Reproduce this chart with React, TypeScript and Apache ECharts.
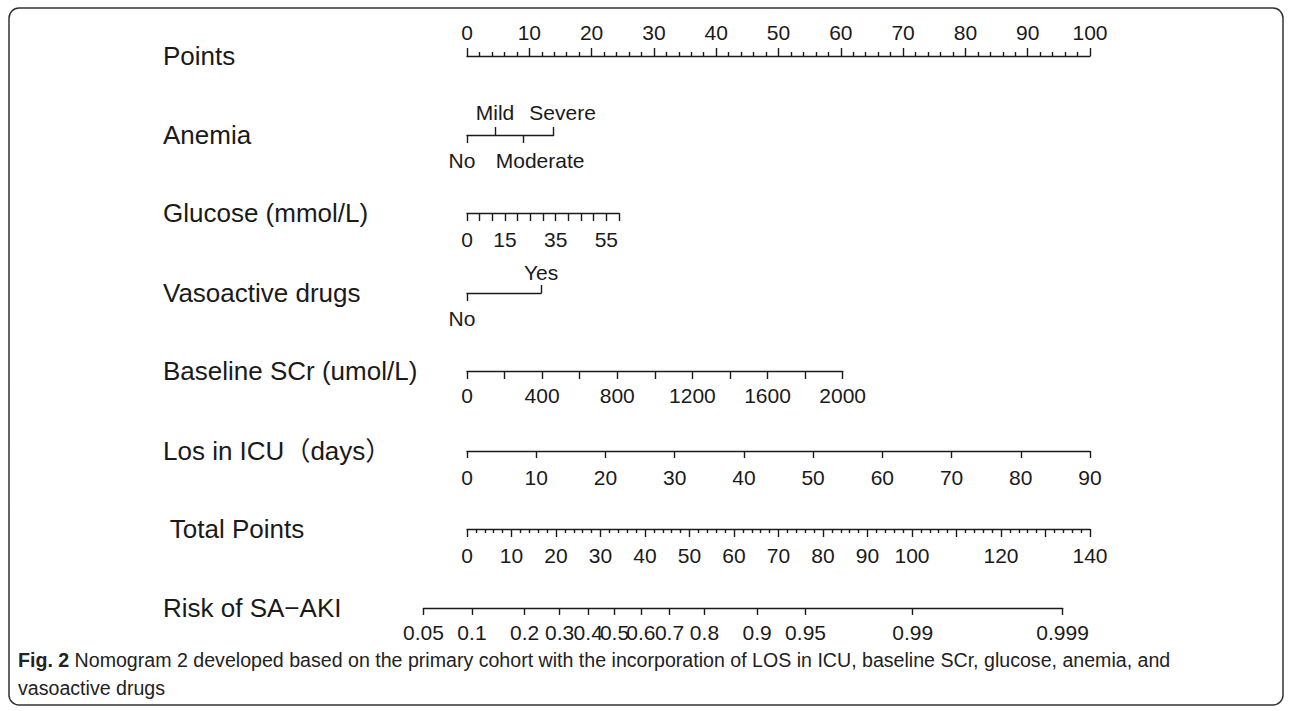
import React, { useEffect, useRef } from "react";
import * as echarts from "echarts";

// ---------- data ----------
const rowLabels = [
  "Points",
  "Anemia",
  "Glucose (mmol/L)",
  "Vasoactive drugs",
  "Baseline SCr (umol/L)",
  "Los in ICU（days）",
  " Total Points",
  "Risk of SA\u2212AKI",
];

const pointsRange = [0, 100];
const pointsStep = 10;

const anemiaLevels = ["No", "Mild", "Moderate", "Severe"];
const anemiaPoints = [0, 4.5, 9.0, 13.9];
const anemiaUpper = ["Mild", "Severe"];

const glucoseRange = [0, 60];
const glucoseMaxPoints = 24.4;
const glucoseStep = 5;
const glucoseLabels = [0, 15, 35, 55];

const vasoLevels = ["No", "Yes"];
const vasoPoints = [0, 11.9];
const vasoUpper = ["Yes"];

const scrRange = [0, 2000];
const scrMaxPoints = 60.3;
const scrStep = 200;
const scrLabels = [0, 400, 800, 1200, 1600, 2000];

const losRange = [0, 90];
const losMaxPoints = 100;
const losStep = 10;

const totalRange = [0, 140];
const totalStep = 10;
const totalLabels = [0, 10, 20, 30, 40, 50, 60, 70, 80, 90, 100, 120, 140];

const riskTicks = [0.05, 0.1, 0.2, 0.3, 0.4, 0.5, 0.6, 0.7, 0.8, 0.9, 0.95, 0.99, 0.999];
const riskIntercept = 33.15; // total points where risk = 0.5
const riskSlope = 14.58; // total points per logit unit

const captionBold = "Fig. 2";
const captionText =
  " Nomogram 2 developed based on the primary cohort with the incorporation of LOS in ICU, baseline SCr, glucose, anemia, and";
const captionText2 = "vasoactive drugs";

// ---------- layout ----------
const X0 = 467;
const W = 623;
const rowY = [56, 135, 213, 293, 371, 451, 529, 608];
const labelX = 163;
const FONT = "'Liberation Sans', Arial, 'Noto Sans CJK SC', sans-serif";
const FS = 21; // tick labels
const LFS = 26; // variable labels
const INK = "#1a1a1a";
// small horizontal nudges of category labels (px), as in the reference
const labelShift: Record<string, number> = { No: -5, Moderate: 17, Severe: 9 };

const logit = (p: number) => Math.log(p / (1 - p));

export default function App() {
  const ref = useRef<HTMLDivElement>(null);

  useEffect(() => {
    if (!ref.current) return;
    const chart = echarts.init(ref.current, undefined, { renderer: "svg" });

    const pxPerPoint = W / (pointsRange[1] - pointsRange[0]);
    const pxPerTotal = W / (totalRange[1] - totalRange[0]);

    const lineStyle = { color: INK, width: 1.4 };
    const labelBase = { color: INK, fontSize: FS, fontFamily: FONT };

    const grids: any[] = [];
    const xAxes: any[] = [];
    const yAxes: any[] = [];

    const addGrid = (left: number, width: number, y: number) => {
      grids.push({ left, width, top: y, height: 0, containLabel: false });
      const gi = grids.length - 1;
      yAxes.push({ gridIndex: gi, show: false, min: 0, max: 1 });
      return gi;
    };

    // Points
    {
      const gi = addGrid(X0, W, rowY[0]);
      xAxes.push({
        gridIndex: gi,
        type: "value",
        position: "top",
        min: pointsRange[0],
        max: pointsRange[1],
        interval: pointsStep,
        axisLine: { show: true, lineStyle },
        axisTick: { show: true, length: 8, lineStyle },
        minorTick: { show: true, splitNumber: 5, length: 4, lineStyle },
        splitLine: { show: false },
        axisLabel: { ...labelBase, margin: 13.5, formatter: (v: number) => String(v) },
      });
    }

    const richShift: Record<string, any> = {};
    Object.keys(labelShift).forEach((k) => {
      const s = labelShift[k];
      richShift[k] = {
        fontSize: FS,
        fontFamily: FONT,
        color: INK,
        padding: s >= 0 ? [0, 0, 0, 2 * s] : [0, -2 * s, 0, 0],
      };
    });

    // categorical rows (Anemia, Vaso)
    const catRow = (levels: string[], pts: number[], upper: string[], y: number, mTop: number, mBot: number) => {
      const maxP = pts[pts.length - 1];
      const gi = addGrid(X0, maxP * pxPerPoint, y);
      const nameOf = (v: number) => {
        let best = 0;
        pts.forEach((p, i) => {
          if (Math.abs(p - v) < Math.abs(pts[best] - v)) best = i;
        });
        const n = levels[best];
        return labelShift[n] !== undefined ? `{${n}|${n}}` : n;
      };
      const upVals = pts.filter((_, i) => upper.includes(levels[i]));
      const downVals = pts.filter((_, i) => !upper.includes(levels[i]));
      xAxes.push({
        gridIndex: gi,
        type: "value",
        position: "top",
        min: 0,
        max: maxP,
        axisLine: { show: true, lineStyle },
        axisTick: { show: true, length: 8, lineStyle, customValues: upVals },
        splitLine: { show: false },
        axisLabel: { ...labelBase, margin: mTop, customValues: upVals, formatter: nameOf, rich: richShift },
      });
      xAxes.push({
        gridIndex: gi,
        type: "value",
        position: "bottom",
        min: 0,
        max: maxP,
        axisLine: { show: false },
        axisTick: { show: true, length: 8, lineStyle, customValues: downVals },
        splitLine: { show: false },
        axisLabel: { ...labelBase, margin: mBot, customValues: downVals, formatter: nameOf, rich: richShift },
      });
    };

    const contRow = (
      range: number[],
      maxPts: number,
      step: number,
      labels: number[] | null,
      y: number,
      margin: number,
      pxPer: number,
      tickLen: number,
      minor?: boolean
    ) => {
      const gi = addGrid(X0, maxPts * pxPer, y);
      xAxes.push({
        gridIndex: gi,
        type: "value",
        position: "bottom",
        min: range[0],
        max: range[1],
        interval: step,
        axisLine: { show: true, lineStyle },
        axisTick: { show: true, length: tickLen, lineStyle },
        minorTick: minor ? { show: true, splitNumber: 5, length: 4, lineStyle } : { show: false },
        splitLine: { show: false },
        axisLabel: labels
          ? { ...labelBase, margin, customValues: labels, formatter: (v: number) => String(v) }
          : { ...labelBase, margin, formatter: (v: number) => String(v) },
      });
    };

    catRow(anemiaLevels, anemiaPoints, anemiaUpper, rowY[1], 12.5, 14.5);
    contRow(glucoseRange, glucoseMaxPoints, glucoseStep, glucoseLabels, rowY[2], 15.5, pxPerPoint, 8);
    catRow(vasoLevels, vasoPoints, vasoUpper, rowY[3], 10.5, 14.5);
    contRow(scrRange, scrMaxPoints, scrStep, scrLabels, rowY[4], 13.5, pxPerPoint, 8);
    contRow(losRange, losMaxPoints, losStep, null, rowY[5], 15.5, pxPerPoint, 7);
    contRow(totalRange, totalRange[1], totalStep, totalLabels, rowY[6], 15.5, pxPerTotal, 8, true);

    // Risk
    {
      const lo = logit(riskTicks[0]);
      const hi = logit(riskTicks[riskTicks.length - 1]);
      const left = X0 + (riskIntercept + riskSlope * lo) * pxPerTotal;
      const width = (hi - lo) * riskSlope * pxPerTotal;
      const gi = addGrid(left, width, rowY[7]);
      const vals = riskTicks.map(logit);
      xAxes.push({
        gridIndex: gi,
        type: "value",
        position: "bottom",
        min: lo,
        max: hi,
        axisLine: { show: true, lineStyle },
        axisTick: { show: true, length: 7, lineStyle, customValues: vals },
        splitLine: { show: false },
        axisLabel: {
          ...labelBase,
          margin: 13.5,
          customValues: vals,
          hideOverlap: false,
          formatter: (v: number) => {
            let best = 0;
            vals.forEach((x, i) => {
              if (Math.abs(x - v) < Math.abs(vals[best] - v)) best = i;
            });
            return String(riskTicks[best]);
          },
        },
      });
    }

    const graphics: any[] = [
      {
        type: "rect",
        shape: { x: 9, y: 8, width: 1274, height: 697, r: 10 },
        style: { fill: "none", stroke: "#333", lineWidth: 1.5 },
        silent: true,
      },
      ...rowLabels.map((t, i) => ({
        type: "text",
        x: labelX,
        y: rowY[i],
        style: {
          text: t,
          fill: INK,
          fontSize: LFS,
          fontFamily: FONT,
          verticalAlign: "middle",
          align: "left",
        },
      })),
      {
        type: "text",
        x: 18,
        y: 646,
        style: {
          text: `{b|${captionBold}}${captionText}\n${captionText2}`,
          fill: "#222",
          fontSize: 19.6,
          fontFamily: FONT,
          lineHeight: 28,
          verticalAlign: "top",
          rich: {
            b: { fontWeight: "bold", fontSize: 19.6, fontFamily: FONT, fill: "#222", lineHeight: 28 },
          },
        },
      },
    ];

    chart.setOption({
      animation: false,
      backgroundColor: "#fff",
      grid: grids,
      xAxis: xAxes,
      yAxis: yAxes,
      series: [],
      graphic: graphics,
    });

    return () => chart.dispose();
  }, []);

  return (
    <div
      ref={ref}
      style={{ position: "fixed", left: 0, top: 0, width: 1292, height: 711, background: "#fff" }}
    />
  );
}
